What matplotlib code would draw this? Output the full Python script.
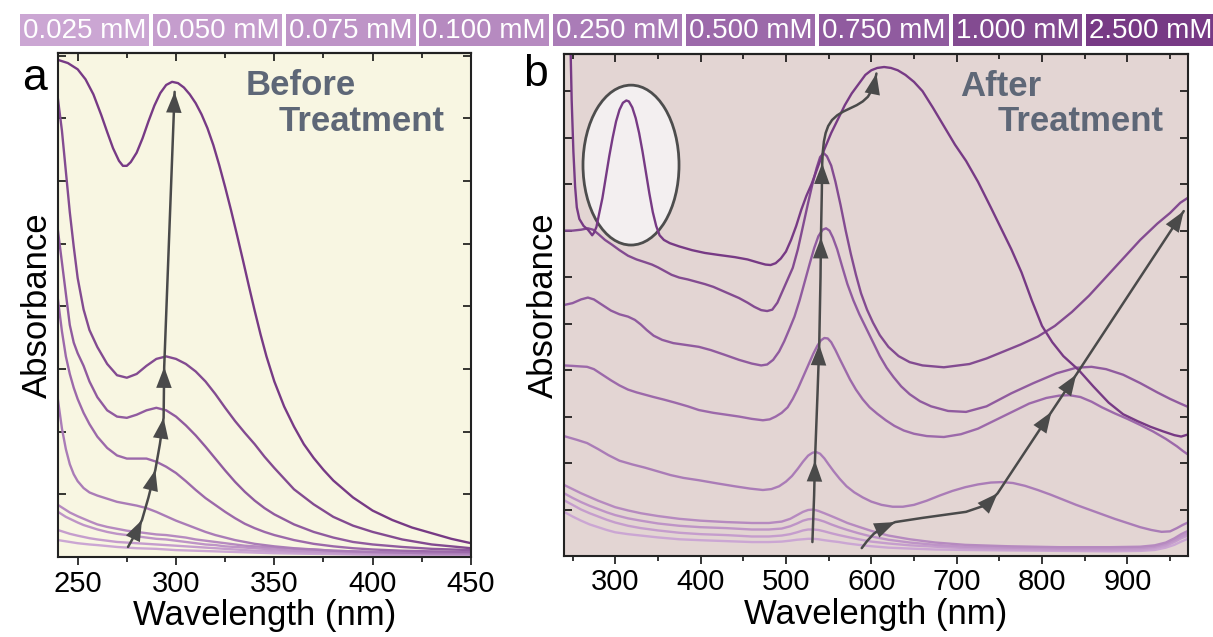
import matplotlib.pyplot as plt
from matplotlib.patches import Rectangle, Ellipse
from matplotlib.ticker import MultipleLocator

plt.rcParams['font.family'] = ['Liberation Sans', 'DejaVu Sans']

# concentrations shown in the colour key
conc_labels = ["0.025 mM", "0.050 mM", "0.075 mM", "0.100 mM", "0.250 mM",
               "0.500 mM", "0.750 mM", "1.000 mM", "2.500 mM"]
conc_colors = ["#cba6d3", "#c59dcd", "#be94c7", "#b68ac0", "#aa7cb7",
               "#9c69aa", "#905b9f", "#834b91", "#773a85"]

# ---- before treatment spectra (nm, absorbance in arbitrary units) ----
wl_a = [240, 242, 244, 246, 248, 250, 253, 256, 260, 265, 270, 275, 280, 285, 290,
        295, 300, 305, 310, 315, 320, 325, 330, 335, 340, 345, 350, 360, 370, 380,
        390, 400, 415, 430, 450]
before_wl = [wl_a] * 8
before = [
    [0.27, 0.26, 0.25, 0.24, 0.23, 0.22, 0.21, 0.20, 0.19, 0.175, 0.16, 0.15, 0.14, 0.135, 0.13,
     0.12, 0.11, 0.105, 0.10, 0.095, 0.09, 0.085, 0.08, 0.075, 0.07, 0.065, 0.06, 0.055, 0.05, 0.045,
     0.04, 0.035, 0.03, 0.025, 0.02],
    [0.43, 0.41, 0.39, 0.37, 0.355, 0.34, 0.32, 0.30, 0.28, 0.26, 0.24, 0.23, 0.22, 0.21, 0.20,
     0.19, 0.18, 0.17, 0.16, 0.15, 0.14, 0.13, 0.12, 0.11, 0.10, 0.10, 0.09, 0.08, 0.07, 0.06,
     0.05, 0.05, 0.04, 0.04, 0.03],
    [0.72, 0.68, 0.64, 0.61, 0.58, 0.55, 0.51, 0.48, 0.44, 0.40, 0.37, 0.35, 0.33, 0.31, 0.29,
     0.28, 0.26, 0.24, 0.22, 0.20, 0.19, 0.17, 0.16, 0.15, 0.14, 0.13, 0.12, 0.10, 0.09, 0.08,
     0.07, 0.06, 0.05, 0.05, 0.04],
    [0.83, 0.79, 0.75, 0.71, 0.68, 0.65, 0.61, 0.57, 0.52, 0.48, 0.45, 0.42, 0.40, 0.38, 0.36,
     0.35, 0.33, 0.31, 0.28, 0.26, 0.24, 0.22, 0.20, 0.18, 0.17, 0.16, 0.15, 0.13, 0.12, 0.10,
     0.09, 0.08, 0.07, 0.06, 0.05],
    [2.50, 2.05, 1.72, 1.48, 1.32, 1.21, 1.10, 1.03, 0.98, 0.93, 0.88, 0.85, 0.82, 0.78, 0.72,
     0.65, 0.58, 0.52, 0.46, 0.40, 0.35, 0.31, 0.27, 0.24, 0.21, 0.19, 0.17, 0.14, 0.12, 0.10,
     0.09, 0.08, 0.07, 0.06, 0.06],
    [4.10, 3.60, 3.20, 2.92, 2.70, 2.52, 2.30, 2.12, 1.92, 1.74, 1.62, 1.57, 1.57, 1.57, 1.52,
     1.44, 1.34, 1.21, 1.07, 0.94, 0.83, 0.72, 0.62, 0.53, 0.46, 0.40, 0.35, 0.27, 0.21, 0.17,
     0.14, 0.12, 0.10, 0.09, 0.08],
    [5.20, 4.70, 4.20, 3.70, 3.42, 3.25, 3.05, 2.80, 2.55, 2.34, 2.24, 2.22, 2.27, 2.34, 2.38,
     2.34, 2.24, 2.10, 1.94, 1.76, 1.57, 1.38, 1.20, 1.04, 0.90, 0.78, 0.68, 0.52, 0.40, 0.31,
     0.24, 0.20, 0.16, 0.13, 0.11],
    [7.30, 6.80, 6.15, 5.50, 4.95, 4.45, 3.95, 3.62, 3.35, 3.08, 2.90, 2.86, 2.92, 3.05, 3.16,
     3.20, 3.16, 3.08, 2.96, 2.80, 2.60, 2.38, 2.17, 1.98, 1.80, 1.60, 1.42, 1.08, 0.84, 0.64,
     0.50, 0.40, 0.28, 0.20, 0.14],
]
before_wl.append([240, 245, 250, 254, 258, 262, 265, 268, 271, 273, 275, 277, 280, 283, 286,
                  289, 292, 295, 298, 301, 304, 307, 310, 313, 316, 319, 322, 325, 328, 331,
                  334, 337, 340, 343, 346, 350, 355, 360, 365, 370, 375, 380, 390, 400, 410,
                  420, 430, 440, 450])
before.append([7.93, 7.88, 7.78, 7.62, 7.38, 7.05, 6.78, 6.52, 6.32, 6.24, 6.24, 6.30, 6.45, 6.68,
               6.95, 7.20, 7.40, 7.53, 7.58, 7.56, 7.49, 7.38, 7.24, 7.06, 6.84, 6.57, 6.25, 5.90,
               5.53, 5.14, 4.74, 4.33, 3.93, 3.55, 3.20, 2.80, 2.40, 2.08, 1.80, 1.58, 1.39, 1.22,
               0.95, 0.74, 0.59, 0.47, 0.38, 0.29, 0.22])

# ---- after treatment spectra ----
wl_low = [240, 250, 260, 270, 280, 290, 300, 315, 330, 350, 375, 400, 430, 460, 480, 495, 505,
          513, 520, 526, 532, 538, 545, 553, 562, 572, 585, 600, 620, 645, 675, 710, 760, 820,
          880, 915, 932, 945, 955, 963, 972]
after_wl = [wl_low] * 4
after = [
    [0.95, 0.85, 0.76, 0.68, 0.62, 0.56, 0.51, 0.47, 0.44, 0.40, 0.36, 0.34, 0.32, 0.30, 0.30,
     0.31, 0.33, 0.35, 0.36, 0.37, 0.37, 0.36, 0.34, 0.32, 0.30, 0.27, 0.24, 0.21, 0.18, 0.16,
     0.14, 0.13, 0.12, 0.11, 0.10, 0.11, 0.13, 0.18, 0.24, 0.31, 0.38],
    [1.20, 1.10, 1.00, 0.92, 0.85, 0.78, 0.72, 0.65, 0.60, 0.55, 0.50, 0.47, 0.45, 0.42, 0.42,
     0.44, 0.47, 0.51, 0.55, 0.57, 0.57, 0.56, 0.53, 0.49, 0.45, 0.41, 0.36, 0.31, 0.27, 0.23,
     0.20, 0.17, 0.15, 0.13, 0.13, 0.14, 0.17, 0.22, 0.30, 0.38, 0.45],
    [1.35, 1.25, 1.16, 1.08, 1.01, 0.94, 0.88, 0.81, 0.76, 0.70, 0.65, 0.62, 0.60, 0.57, 0.57,
     0.59, 0.64, 0.70, 0.76, 0.79, 0.80, 0.78, 0.74, 0.68, 0.62, 0.56, 0.49, 0.42, 0.35, 0.29,
     0.24, 0.20, 0.18, 0.16, 0.16, 0.17, 0.20, 0.26, 0.34, 0.42, 0.50],
    [1.53, 1.44, 1.35, 1.27, 1.19, 1.12, 1.05, 0.98, 0.92, 0.86, 0.80, 0.76, 0.73, 0.71, 0.71,
     0.74, 0.80, 0.88, 0.95, 0.99, 1.00, 0.97, 0.92, 0.86, 0.79, 0.71, 0.63, 0.54, 0.44, 0.36,
     0.29, 0.24, 0.21, 0.19, 0.19, 0.20, 0.23, 0.29, 0.38, 0.47, 0.55],
]

after_wl.append([240, 255, 267, 280, 292, 305, 320, 335, 350, 365, 380, 398, 420, 440, 458,
                 473, 483, 492, 500, 507, 514, 520, 526, 531, 535, 540, 545, 550, 556, 563,
                 571, 580, 590, 600, 612, 625, 637, 650, 665, 680, 695, 710, 725, 740, 753,
                 766, 780, 795, 810, 825, 840, 855, 870, 885, 900, 915, 928, 940, 950, 958,
                 965, 972])
after.append([2.58, 2.50, 2.43, 2.30, 2.17, 2.05, 1.97, 1.90, 1.82, 1.74, 1.68, 1.63, 1.56, 1.50,
              1.45, 1.42, 1.44, 1.50, 1.60, 1.72, 1.88, 2.03, 2.16, 2.22, 2.24, 2.20, 2.10, 1.97,
              1.82, 1.66, 1.50, 1.37, 1.26, 1.17, 1.10, 1.06, 1.06, 1.10, 1.19, 1.30, 1.40, 1.48,
              1.54, 1.58, 1.59, 1.57, 1.51, 1.42, 1.32, 1.21, 1.10, 1.00, 0.90, 0.80, 0.71, 0.62,
              0.56, 0.52, 0.53, 0.60, 0.67, 0.73])

after_wl.append([240, 250, 258, 267, 275, 285, 295, 305, 315, 325, 335, 345, 358, 370, 385,
                 398, 415, 430, 445, 460, 473, 481, 488, 495, 502, 508, 514, 520, 526, 532,
                 537, 541, 545, 549, 553, 558, 563, 569, 575, 582, 590, 598, 607, 617, 627,
                 638, 650, 665, 685, 705, 725, 745, 765, 785, 805, 820, 832, 845, 858, 870,
                 885, 900, 915, 930, 945, 958, 965, 972])
after.append([4.10, 4.09, 4.08, 4.07, 4.02, 3.90, 3.78, 3.67, 3.58, 3.52, 3.47, 3.42, 3.36, 3.30,
              3.22, 3.14, 3.08, 3.04, 3.00, 2.95, 2.92, 2.94, 3.00, 3.08, 3.20, 3.38, 3.60, 3.85,
              4.10, 4.35, 4.53, 4.64, 4.69, 4.68, 4.60, 4.43, 4.24, 4.02, 3.80, 3.58, 3.37, 3.20,
              3.06, 2.92, 2.80, 2.70, 2.63, 2.58, 2.56, 2.62, 2.74, 2.92, 3.10, 3.28, 3.40, 3.45,
              3.46, 3.42, 3.32, 3.20, 3.07, 2.95, 2.82, 2.68, 2.52, 2.36, 2.26, 2.17])

after_wl.append([240, 250, 260, 268, 275, 285, 295, 305, 315, 323, 330, 337, 345, 355, 368,
                 383, 398, 412, 428, 445, 460, 471, 478, 485, 492, 498, 504, 510, 516, 522,
                 528, 533, 538, 543, 547, 551, 555, 560, 566, 572, 579, 586, 594, 602, 610,
                 618, 626, 635, 645, 657, 670, 690, 711, 735, 764, 790, 817, 840, 858, 875,
                 895, 915, 935, 950, 962, 972])
after.append([5.40, 5.44, 5.52, 5.56, 5.52, 5.40, 5.28, 5.20, 5.15, 5.08, 4.98, 4.86, 4.74, 4.65,
              4.58, 4.54, 4.50, 4.43, 4.33, 4.22, 4.14, 4.10, 4.12, 4.22, 4.40, 4.62, 4.88, 5.15,
              5.50, 5.90, 6.30, 6.62, 6.88, 7.02, 7.05, 7.00, 6.85, 6.60, 6.22, 5.85, 5.50, 5.20,
              4.90, 4.60, 4.30, 4.05, 3.85, 3.65, 3.48, 3.33, 3.22, 3.12, 3.10, 3.22, 3.50, 3.72,
              3.93, 4.05, 4.07, 4.02, 3.90, 3.72, 3.52, 3.38, 3.28, 3.20])

after_wl.append([240, 250, 260, 268, 274, 280, 288, 296, 305, 315, 325, 335, 343, 350, 358,
                 366, 375, 385, 395, 405, 415, 425, 435, 445, 455, 463, 471, 478, 484, 490,
                 496, 502, 508, 514, 520, 526, 531, 536, 540, 544, 548, 553, 558, 564, 570,
                 576, 582, 588, 595, 602, 610, 620, 632, 645, 660, 685, 715, 735, 755, 775,
                 795, 815, 835, 855, 875, 895, 915, 935, 950, 962, 972])
after.append([7.00, 7.00, 7.02, 7.05, 7.02, 6.93, 6.80, 6.70, 6.58, 6.46, 6.38, 6.32, 6.27, 6.21,
              6.13, 6.05, 5.99, 5.95, 5.90, 5.85, 5.79, 5.71, 5.63, 5.55, 5.45, 5.36, 5.29, 5.27,
              5.30, 5.45, 5.70, 5.95, 6.20, 6.60, 7.10, 7.60, 8.00, 8.35, 8.58, 8.67, 8.60, 8.40,
              8.05, 7.55, 7.00, 6.50, 6.05, 5.65, 5.30, 5.02, 4.75, 4.50, 4.30, 4.17, 4.10, 4.06,
              4.13, 4.25, 4.40, 4.55, 4.72, 4.95, 5.25, 5.60, 6.00, 6.40, 6.80, 7.15, 7.38, 7.60,
              7.72])

after_wl.append([247, 249, 251, 253, 255, 258, 263, 268, 271, 273, 275, 278, 281, 285, 289,
                 293, 297, 301, 305, 309, 313, 316, 320, 324, 328, 332, 336, 340, 344, 348,
                 352, 357, 364, 375, 390, 405, 420, 440, 455, 468, 476, 482, 488, 494, 500,
                 506, 512, 518, 524, 530, 537, 545, 553, 561, 569, 577, 585, 593, 600, 607,
                 615, 623, 631, 640, 650, 660, 672, 685, 698, 711, 725, 740, 752, 764, 776,
                 788, 800, 812, 825, 843, 860, 878, 895, 912, 927, 942, 955, 963, 972])
after.append([11.5, 9.80, 8.70, 7.95, 7.50, 7.25, 7.10, 7.02, 6.95, 6.90, 6.95, 7.08, 7.35, 7.70,
              8.15, 8.60, 9.00, 9.35, 9.60, 9.75, 9.80, 9.78, 9.65, 9.42, 9.10, 8.70, 8.25, 7.80,
              7.40, 7.10, 6.90, 6.80, 6.73, 6.66, 6.58, 6.52, 6.48, 6.43, 6.38, 6.31, 6.27, 6.26,
              6.30, 6.40, 6.55, 6.80, 7.10, 7.45, 7.75, 8.00, 8.35, 8.75, 9.10, 9.40, 9.70, 9.95,
              10.15, 10.35, 10.45, 10.50, 10.52, 10.50, 10.45, 10.35, 10.20, 10.00, 9.65, 9.25,
              8.85, 8.50, 8.05, 7.50, 7.05, 6.60, 6.10, 5.50, 4.95, 4.60, 4.30, 4.00, 3.65, 3.30,
              3.05, 2.90, 2.78, 2.68, 2.60, 2.57, 2.62])

# guide arrows drawn through the peaks (nm, absorbance)
arrow_a_x = [275.6, 279.0, 282.7, 286.0, 289.5, 291.8, 293.7, 294.0, 299.3]
arrow_a_y = [0.16, 0.35, 0.59, 0.95, 1.39, 1.80, 2.22, 3.03, 7.42]
arrow_a_heads = [2, 4, 6, 7, 8]

arrow_b1_x = [531, 533, 534, 537, 539, 540.5, 541, 542, 542.5, 543.2, 544.5, 546.5, 549.5,
              554, 560, 567, 575, 583, 590, 596, 600.5, 604, 606]
arrow_b1_y = [0.30, 1.3, 2.05, 3.5, 4.55, 6.0, 6.85, 7.8, 8.45, 8.70, 8.92, 9.10, 9.25,
              9.38, 9.48, 9.56, 9.63, 9.70, 9.78, 9.88, 10.02, 10.20, 10.38]
arrow_b1_heads = [2, 4, 6, 8, 22]

arrow_b2_x = [588.8, 595, 603, 612, 628, 660, 711, 735, 748, 811, 840, 966]
arrow_b2_y = [0.17, 0.32, 0.48, 0.60, 0.73, 0.82, 0.95, 1.10, 1.35, 3.10, 3.90, 7.42]
arrow_b2_heads = [4, 8, 9, 10, 11]

W, H = 1213, 637
fig = plt.figure(figsize=(W / 100, H / 100), dpi=100)


def box(x0, y0, x1, y1):
    return [x0 / W, 1 - y1 / H, (x1 - x0) / W, (y1 - y0) / H]


ax_a = fig.add_axes(box(58, 53, 471, 557))
ax_b = fig.add_axes(box(564, 54, 1188, 556))

# colour key along the top
for i, (lab, col) in enumerate(zip(conc_labels, conc_colors)):
    x0 = 19.5 + i * 133.3
    fig.add_artist(Rectangle((x0 / W, 1 - 46 / H), 129.5 / W, 32 / H,
                             transform=fig.transFigure, fc=col, ec='none'))
    fig.text((x0 + 64.7) / W, 1 - 30.5 / H, lab, color='white', fontsize=20,
             ha='center', va='center')

arrow_col = '#4a4a4a'


def draw_arrow(ax, xs, ys, heads):
    ax.plot(xs, ys, color=arrow_col, lw=1.8, zorder=4, solid_capstyle='round')
    for k in heads:
        ax.annotate('', xy=(xs[k], ys[k]), xytext=(xs[k - 1], ys[k - 1]),
                    arrowprops=dict(arrowstyle='-|>,head_length=0.75,head_width=0.28',
                                    color=arrow_col, lw=0, shrinkA=0, shrinkB=0,
                                    mutation_scale=20), zorder=5)


def style(ax, major, minor, ytick, ylim, xlim):
    ax.set_xlim(*xlim)
    ax.set_ylim(*ylim)
    ax.xaxis.set_major_locator(MultipleLocator(major))
    ax.xaxis.set_minor_locator(MultipleLocator(minor))
    ax.yaxis.set_major_locator(MultipleLocator(ytick))
    ax.tick_params(axis='x', which='major', direction='out', length=6, width=1.1,
                   labelsize=21, pad=3, top=False)
    ax.tick_params(axis='x', which='minor', direction='out', length=3.5, width=1.1, top=False)
    ax.tick_params(axis='y', which='major', direction='in', length=6, width=1.1,
                   left=True, right=True, labelleft=False)
    top = ax.secondary_xaxis('top')
    top.xaxis.set_major_locator(MultipleLocator(major))
    top.xaxis.set_minor_locator(MultipleLocator(minor))
    top.tick_params(which='major', direction='in', length=6, width=1.1, labeltop=False)
    top.tick_params(which='minor', direction='in', length=3.5, width=1.1)
    top.spines['top'].set_linewidth(1.5)
    for s in ax.spines.values():
        s.set_linewidth(1.5)
        s.set_color('#222222')
    ax.set_xlabel('Wavelength (nm)', fontsize=25, labelpad=1)
    ax.set_ylabel('Absorbance', fontsize=25, labelpad=3)


# panel a
ax_a.set_facecolor('#f8f6e2')
for xs, ys, col in zip(before_wl, before, conc_colors):
    ax_a.plot(xs, ys, color=col, lw=1.7, zorder=2)
draw_arrow(ax_a, arrow_a_x, arrow_a_y, arrow_a_heads)
style(ax_a, 50, 25, 1, (0, 8.04), (240, 450))
ax_a.text(0.455, 0.935, 'Before', transform=ax_a.transAxes, fontsize=25,
          fontweight='bold', color='#5e6777', ha='left', va='center')
ax_a.text(0.535, 0.865, 'Treatment', transform=ax_a.transAxes, fontsize=25,
          fontweight='bold', color='#5e6777', ha='left', va='center')
fig.text(34 / W, 1 - 78 / H, 'a', fontsize=32, ha='center', va='center')

# panel b
ax_b.set_facecolor('#e3d5d3')
ax_b.add_patch(Ellipse((318.5, 8.41), 112.5, 3.44, fc='#f3eff0', ec='#4d4d4d',
                       lw=2.0, zorder=1))
for xs, ys, col in zip(after_wl, after, conc_colors):
    ax_b.plot(xs, ys, color=col, lw=1.7, zorder=2)
draw_arrow(ax_b, arrow_b1_x, arrow_b1_y, arrow_b1_heads)
draw_arrow(ax_b, arrow_b2_x, arrow_b2_y, arrow_b2_heads)
style(ax_b, 100, 50, 1, (0, 10.8), (240, 971))
ax_b.text(0.635, 0.935, 'After', transform=ax_b.transAxes, fontsize=25,
          fontweight='bold', color='#5e6777', ha='left', va='center')
ax_b.text(0.695, 0.865, 'Treatment', transform=ax_b.transAxes, fontsize=25,
          fontweight='bold', color='#5e6777', ha='left', va='center')
fig.text(536 / W, 1 - 75 / H, 'b', fontsize=32, ha='center', va='center')

fig.savefig('out.png', dpi=100)
